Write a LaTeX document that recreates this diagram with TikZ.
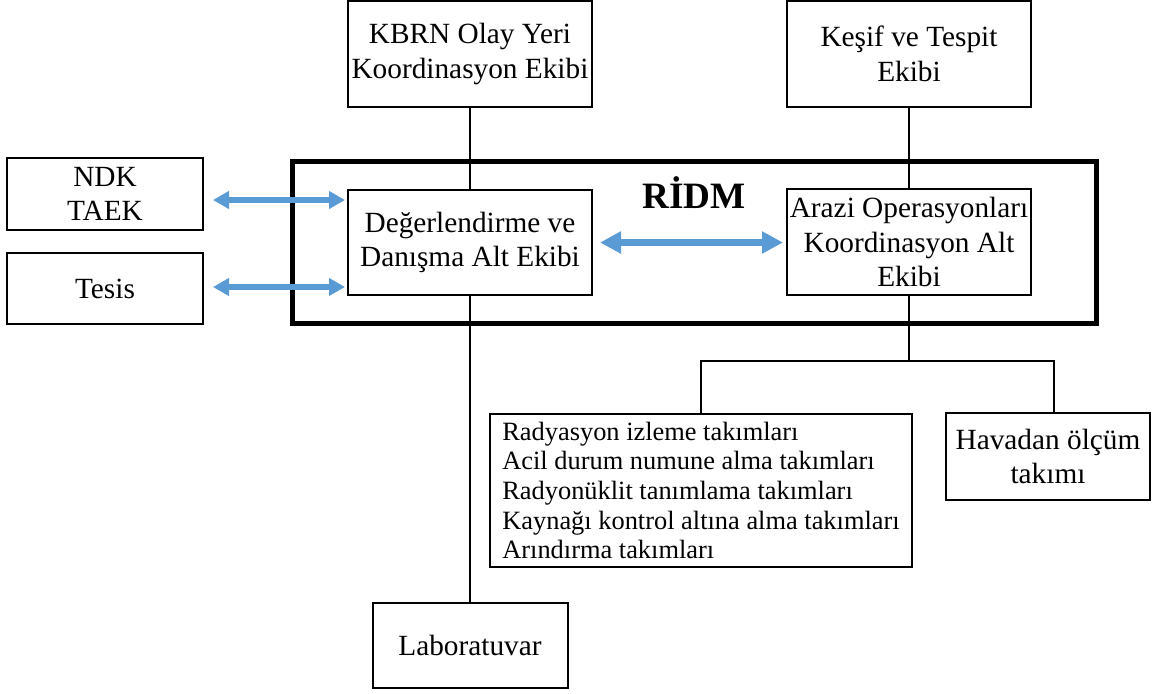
\documentclass[tikz,border=0pt]{standalone}
\usepackage{fontspec}
\setmainfont{Liberation Serif}
\usetikzlibrary{arrows.meta}
\definecolor{linkblue}{RGB}{91,155,213}
\tikzset{
  unitbox/.style={draw, line width=1pt, inner sep=0pt, align=center,
    font=\fontsize{14.65}{17.2}\selectfont},
  listbox/.style={draw, line width=1pt, inner sep=0pt, align=left,
    font=\fontsize{13.2}{14.8}\selectfont},
  frame/.style={draw, line width=2.5pt, inner sep=0pt},
  link/.style={line width=1pt},
  biarrow/.style={linkblue, line width=2.75pt,
    {Triangle[width=8.5pt,length=8pt]}-{Triangle[width=8.5pt,length=8pt]}},
  bigbiarrow/.style={linkblue, line width=3.6pt,
    {Triangle[width=10.5pt,length=10.5pt]}-{Triangle[width=10.5pt,length=10.5pt]}},
}
\begin{document}
\begin{tikzpicture}[x=0.5pt,y=-0.5pt]
\useasboundingbox (0,0) rectangle (1153,693);

% RİDM frame
\node[frame, minimum width=402pt, minimum height=81pt] (ridm) at (694,242) {};
\node[anchor=base, font=\bfseries\fontsize{18.6}{22}\selectfont] (ridmlabel) at (694,208) {RİDM};

% upper boxes
\node[unitbox, minimum width=122pt, minimum height=53pt] (kbrn) at (470,54) {KBRN Olay Yeri\\Koordinasyon Ekibi};
\node[unitbox, minimum width=122pt, minimum height=53pt] (kesif) at (909,54) {Keşif ve Tespit\\Ekibi};

% left boxes
\node[unitbox, minimum width=98pt, minimum height=36pt] (ndk) at (105,194) {NDK\\TAEK};
\node[unitbox, minimum width=98pt, minimum height=35.5pt] (tesis) at (105,288.5) {Tesis};

% sub-teams inside the frame
\node[unitbox, minimum width=122pt, minimum height=52.5pt] (deg) at (470,242.5) {Değerlendirme ve\\Danışma Alt Ekibi};
\node[unitbox, minimum width=122pt, minimum height=53pt] (arazi) at (909,242) {Arazi Operasyonları\\Koordinasyon Alt\\Ekibi};

% lower boxes
\node[listbox, minimum width=211pt, minimum height=76.5pt] (teams) at (701,490.5)
  {Radyasyon izleme takımları\\Acil durum numune alma takımları\\Radyonüklit tanımlama takımları\\Kaynağı kontrol altına alma takımları\\Arındırma takımları};
\node[unitbox, minimum width=102pt, minimum height=43.5pt] (hava) at (1048,456.5) {Havadan ölçüm\\takımı};
\node[unitbox, minimum width=97.5pt, minimum height=42.5pt] (lab) at (470,645.5) {Laboratuvar};

% hierarchy lines
\draw[link] (kbrn.south) -- (deg.north);
\draw[link] (kesif.south) -- (arazi.north);
\draw[link] (deg.south) -- (lab.north);
\coordinate (split) at (909,361);
\draw[link] (arazi.south) -- (split);
\draw[link] (teams.north) |- (split) -| ([xshift=3pt]hava.north);

% two-way links
\draw[biarrow] ([shift={(9,6)}]ndk.east) -- ([shift={(-2,6)}]ndk.east -| deg.west);
\draw[biarrow] ([shift={(9,-1.5)}]tesis.east) -- ([shift={(-2,-1.5)}]tesis.east -| deg.west);
\draw[bigbiarrow] ([xshift=3.5pt]deg.east) -- ([xshift=-1.5pt]deg.east -| arazi.west);
\end{tikzpicture}
\end{document}
